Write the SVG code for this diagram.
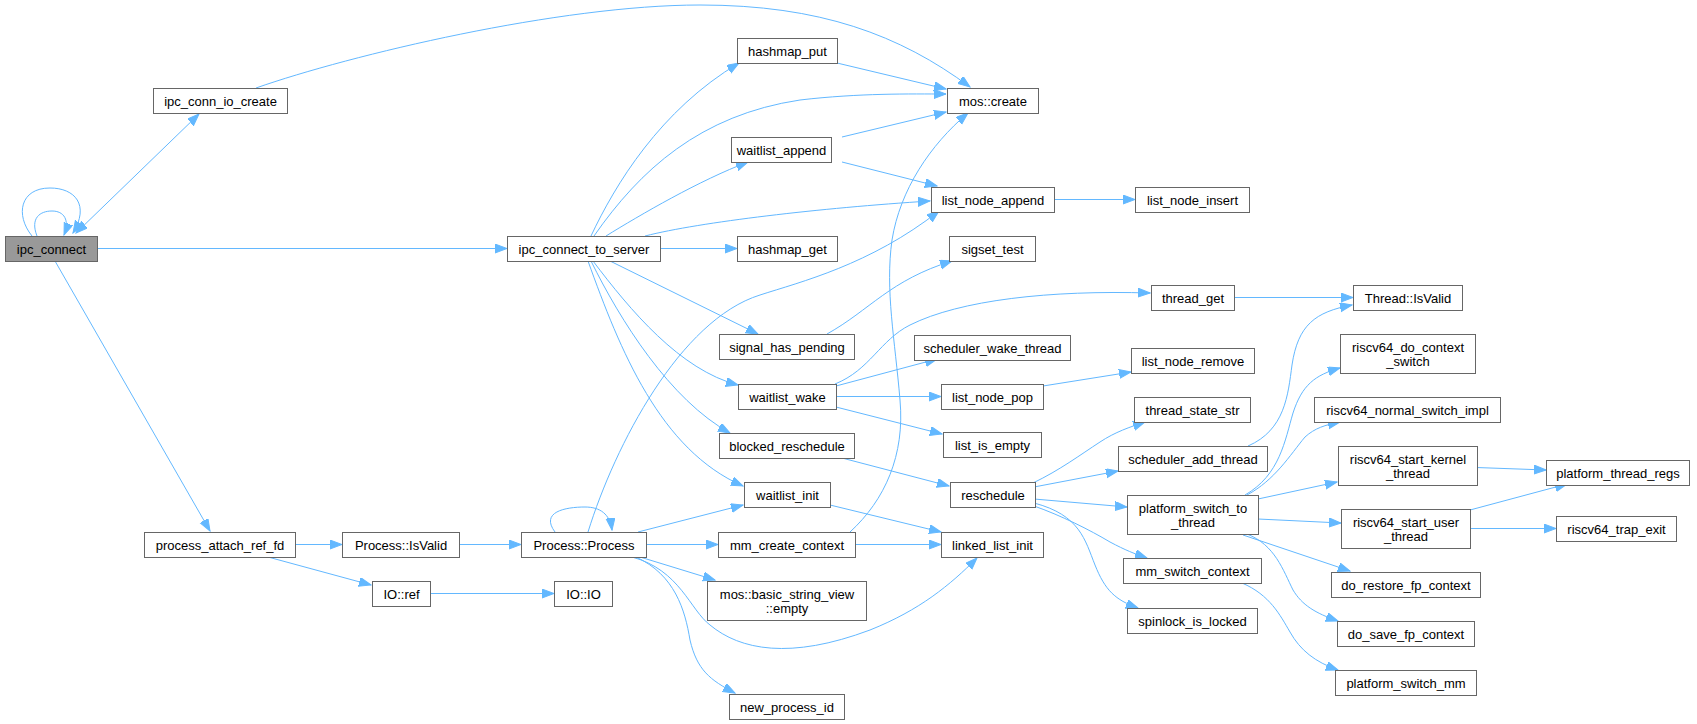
<svg xmlns="http://www.w3.org/2000/svg" width="1697" height="724" viewBox="0 0 1697 724">
<style>
.n rect{fill:#fff;stroke:#666;stroke-width:1}
.n text{font-family:"Liberation Sans",Arial,sans-serif;font-size:13px;fill:#000;text-anchor:middle}
#ipc_connect rect{fill:#999}
.e path{fill:none;stroke:#63b8ff;stroke-width:1;marker-end:url(#ah)}
</style>
<defs>
<marker id="ah" markerUnits="userSpaceOnUse" markerWidth="13" markerHeight="10" refX="12" refY="4.5" orient="auto-start-reverse">
<path d="M0,0 L12,4.5 L0,9 z" fill="#63b8ff" stroke="#63b8ff" stroke-width="1"/>
</marker>
</defs>
<rect width="1697" height="724" fill="#fff"/>
<g id="edges" class="e">
<path d="M32,236 C15,215 20,188 50,188 C75,188 90,205 73,233"/>
<path d="M37,236 C30,218 40,211 52,211 C64,211 70,220 64,235"/>
<path d="M76,233 L199,114" style="marker-start:url(#ah)"/>
<path d="M256,88 C350,55 560,5 700,5 C820,5 900,35 970,87"/>
<path d="M97,248.5 L507,248.5"/>
<path d="M55,261 L210,531"/>
<path d="M591,236 C615,185 660,110 739,63"/>
<path d="M594,236 C640,170 700,115 800,100 C860,93 910,94 946,94"/>
<path d="M606,236 C640,215 700,180 748,162"/>
<path d="M645,236 C700,222 820,208 930,201"/>
<path d="M660,248.5 L737,248.5"/>
<path d="M610,261 L758,334"/>
<path d="M593,261 C630,310 680,370 738,385"/>
<path d="M591,261 C620,320 670,400 730,433"/>
<path d="M588,261 C620,350 660,450 743,486"/>
<path d="M588,532 C615,445 680,320 760,295 C800,282 870,265 939,211"/>
<path d="M850,532 C885,500 905,455 900,400 C895,340 885,290 892,240 C900,190 930,145 968,113"/>
<path d="M842,137 L946,112"/>
<path d="M842,162 L937,186"/>
<path d="M837,63 L946,89"/>
<path d="M1054,199.5 L1135,199.5"/>
<path d="M827,334 C870,310 890,280 952,261"/>
<path d="M835,384 C870,370 880,340 910,325 C960,300 1050,290 1150,293"/>
<path d="M836,386 L937,359"/>
<path d="M836,396.5 L941,396.5"/>
<path d="M836,407 L942,434"/>
<path d="M1043,386 L1131,372"/>
<path d="M1234,297.5 L1353,297.5"/>
<path d="M1248,446 C1285,430 1288,395 1292,365 C1298,325 1315,312 1352,305"/>
<path d="M842,458 L949,486"/>
<path d="M1033,483 C1060,470 1080,455 1100,442 C1115,432 1130,427 1145,422"/>
<path d="M1034,487 L1118,471"/>
<path d="M1034,499 L1127,507"/>
<path d="M1034,506 C1060,515 1090,530 1110,542 C1125,550 1135,554 1147,558"/>
<path d="M1034,503 C1080,515 1085,540 1095,565 C1105,590 1115,600 1138,608"/>
<path d="M830,505 L941,532"/>
<path d="M855,544.5 L941,544.5"/>
<path d="M632,557 C680,570 690,610 710,625 C740,650 790,660 870,630 C920,610 950,585 977,558"/>
<path d="M555,532 C540,512 565,507 585,507 C600,507 610,514 612,530"/>
<path d="M638,532 L743,505"/>
<path d="M646,544.5 L718,544.5"/>
<path d="M640,557 L715,580"/>
<path d="M636,557 C675,575 685,610 690,640 C697,670 710,680 735,693"/>
<path d="M459,544.5 L521,544.5"/>
<path d="M295,544.5 L342,544.5"/>
<path d="M268,557 L371,585"/>
<path d="M430,593.5 L554,593.5"/>
<path d="M1245,495 C1280,475 1285,440 1293,413 C1302,385 1315,375 1340,368"/>
<path d="M1247,495 C1275,480 1290,455 1305,437 C1315,428 1325,425 1340,422"/>
<path d="M1258,499 L1337,482"/>
<path d="M1258,519 L1341,523"/>
<path d="M1243,535 L1350,571"/>
<path d="M1247,534 C1275,545 1283,570 1293,590 C1302,605 1315,613 1338,621"/>
<path d="M1242,583 C1270,595 1280,615 1290,632 C1300,650 1315,662 1338,670"/>
<path d="M1476,467.5 L1546,470"/>
<path d="M1470,510 L1567,484"/>
<path d="M1470,528.5 L1556,528.5"/>
</g>
<g id="ipc_connect" class="n"><rect x="5.5" y="236.5" width="92" height="25"/><text x="51.5" y="254">ipc_connect</text></g>
<g id="ipc_conn_io_create" class="n"><rect x="153.5" y="88.5" width="134" height="25"/><text x="220.5" y="106">ipc_conn_io_create</text></g>
<g id="ipc_connect_to_server" class="n"><rect x="507.5" y="236.5" width="153" height="25"/><text x="584" y="254">ipc_connect_to_server</text></g>
<g id="process_attach_ref_fd" class="n"><rect x="144.5" y="532.5" width="151" height="25"/><text x="220" y="550">process_attach_ref_fd</text></g>
<g id="hashmap_put" class="n"><rect x="737.5" y="38.5" width="100" height="25"/><text x="787.5" y="56">hashmap_put</text></g>
<g id="mos_create" class="n"><rect x="947.5" y="88.5" width="91" height="25"/><text x="993" y="106">mos::create</text></g>
<g id="waitlist_append" class="n"><rect x="731.5" y="137.5" width="100" height="25"/><text x="781.5" y="155">waitlist_append</text></g>
<g id="list_node_append" class="n"><rect x="931.5" y="187.5" width="123" height="25"/><text x="993" y="205">list_node_append</text></g>
<g id="list_node_insert" class="n"><rect x="1135.5" y="187.5" width="114" height="25"/><text x="1192.5" y="205">list_node_insert</text></g>
<g id="hashmap_get" class="n"><rect x="737.5" y="236.5" width="100" height="25"/><text x="787.5" y="254">hashmap_get</text></g>
<g id="sigset_test" class="n"><rect x="949.5" y="236.5" width="86" height="25"/><text x="992.5" y="254">sigset_test</text></g>
<g id="signal_has_pending" class="n"><rect x="719.5" y="334.5" width="135" height="25"/><text x="787" y="352">signal_has_pending</text></g>
<g id="thread_get" class="n"><rect x="1151.5" y="285.5" width="83" height="25"/><text x="1193" y="303">thread_get</text></g>
<g id="Thread_IsValid" class="n"><rect x="1353.5" y="285.5" width="109" height="25"/><text x="1408" y="303">Thread::IsValid</text></g>
<g id="scheduler_wake_thread" class="n"><rect x="914.5" y="335.5" width="156" height="25"/><text x="992.5" y="353">scheduler_wake_thread</text></g>
<g id="waitlist_wake" class="n"><rect x="738.5" y="384.5" width="98" height="25"/><text x="787.5" y="402">waitlist_wake</text></g>
<g id="list_node_pop" class="n"><rect x="941.5" y="384.5" width="102" height="25"/><text x="992.5" y="402">list_node_pop</text></g>
<g id="list_node_remove" class="n"><rect x="1131.5" y="348.5" width="123" height="25"/><text x="1193" y="366">list_node_remove</text></g>
<g id="list_is_empty" class="n"><rect x="943.5" y="432.5" width="98" height="25"/><text x="992.5" y="450">list_is_empty</text></g>
<g id="thread_state_str" class="n"><rect x="1134.5" y="397.5" width="116" height="25"/><text x="1192.5" y="415">thread_state_str</text></g>
<g id="scheduler_add_thread" class="n"><rect x="1118.5" y="446.5" width="149" height="25"/><text x="1193" y="464">scheduler_add_thread</text></g>
<g id="blocked_reschedule" class="n"><rect x="719.5" y="433.5" width="135" height="25"/><text x="787" y="451">blocked_reschedule</text></g>
<g id="reschedule" class="n"><rect x="950.5" y="482.5" width="85" height="25"/><text x="993" y="500">reschedule</text></g>
<g id="waitlist_init" class="n"><rect x="744.5" y="482.5" width="86" height="25"/><text x="787.5" y="500">waitlist_init</text></g>
<g id="linked_list_init" class="n"><rect x="941.5" y="532.5" width="102" height="25"/><text x="992.5" y="550">linked_list_init</text></g>
<g id="mm_create_context" class="n"><rect x="718.5" y="532.5" width="137" height="25"/><text x="787" y="550">mm_create_context</text></g>
<g id="Process_Process" class="n"><rect x="521.5" y="532.5" width="125" height="25"/><text x="584" y="550">Process::Process</text></g>
<g id="Process_IsValid" class="n"><rect x="342.5" y="532.5" width="117" height="25"/><text x="401" y="550">Process::IsValid</text></g>
<g id="IO_ref" class="n"><rect x="372.5" y="581.5" width="58" height="25"/><text x="401.5" y="599">IO::ref</text></g>
<g id="IO_IO" class="n"><rect x="554.5" y="581.5" width="58" height="25"/><text x="583.5" y="599">IO::IO</text></g>
<g id="basic_string_view_empty" class="n"><rect x="707.5" y="581.5" width="159" height="39"/><text x="787" y="599">mos::basic_string_view</text><text x="787" y="613">::empty</text></g>
<g id="new_process_id" class="n"><rect x="729.5" y="694.5" width="115" height="25"/><text x="787" y="712">new_process_id</text></g>
<g id="platform_switch_to_thread" class="n"><rect x="1127.5" y="495.5" width="131" height="39"/><text x="1193" y="513">platform_switch_to</text><text x="1193" y="527">_thread</text></g>
<g id="mm_switch_context" class="n"><rect x="1123.5" y="558.5" width="138" height="25"/><text x="1192.5" y="576">mm_switch_context</text></g>
<g id="spinlock_is_locked" class="n"><rect x="1127.5" y="608.5" width="130" height="25"/><text x="1192.5" y="626">spinlock_is_locked</text></g>
<g id="riscv64_do_context_switch" class="n"><rect x="1340.5" y="334.5" width="135" height="39"/><text x="1408" y="352">riscv64_do_context</text><text x="1408" y="366">_switch</text></g>
<g id="riscv64_normal_switch_impl" class="n"><rect x="1314.5" y="397.5" width="186" height="25"/><text x="1407.5" y="415">riscv64_normal_switch_impl</text></g>
<g id="riscv64_start_kernel_thread" class="n"><rect x="1338.5" y="446.5" width="139" height="39"/><text x="1408" y="464">riscv64_start_kernel</text><text x="1408" y="478">_thread</text></g>
<g id="riscv64_start_user_thread" class="n"><rect x="1341.5" y="509.5" width="129" height="39"/><text x="1406" y="527">riscv64_start_user</text><text x="1406" y="541">_thread</text></g>
<g id="platform_thread_regs" class="n"><rect x="1546.5" y="460.5" width="143" height="25"/><text x="1618" y="478">platform_thread_regs</text></g>
<g id="riscv64_trap_exit" class="n"><rect x="1556.5" y="516.5" width="120" height="25"/><text x="1616.5" y="534">riscv64_trap_exit</text></g>
<g id="do_restore_fp_context" class="n"><rect x="1331.5" y="572.5" width="149" height="25"/><text x="1406" y="590">do_restore_fp_context</text></g>
<g id="do_save_fp_context" class="n"><rect x="1337.5" y="621.5" width="137" height="25"/><text x="1406" y="639">do_save_fp_context</text></g>
<g id="platform_switch_mm" class="n"><rect x="1335.5" y="670.5" width="141" height="25"/><text x="1406" y="688">platform_switch_mm</text></g>
</svg>
